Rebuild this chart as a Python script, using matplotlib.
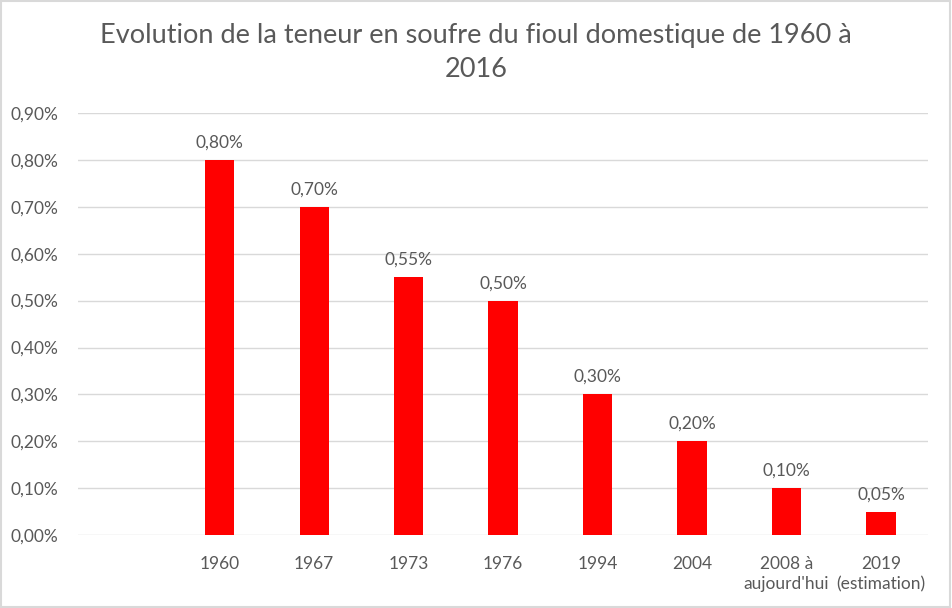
import numpy as np
import matplotlib.pyplot as plt
from matplotlib.ticker import FuncFormatter

plt.rcParams['font.family'] = ['Lato', 'DejaVu Sans']

# data (in %)
categories = ["", "1960", "1967", "1973", "1976", "1994", "2004", "2008 à\naujourd'hui", "2019\n(estimation)"]
teneur = [np.nan, 0.80, 0.70, 0.55, 0.50, 0.30, 0.20, 0.10, 0.05]
titre = "Evolution de la teneur en soufre du fioul domestique de 1960 à\n2016"

txt = "#595959"
grid = "#d9d9d9"

fig = plt.figure(figsize=(9.52, 6.08), dpi=100)
ax = fig.add_axes([0.082, 0.12, 0.893, 0.694])

x = np.arange(len(categories))
ax.bar(x, teneur, width=0.31, color="#ff0000", zorder=3)

for xi, v in zip(x, teneur):
    if not np.isnan(v):
        ax.text(xi, v + 0.02, f"{v:.2f}%".replace(".", ","), ha="center", va="bottom",
                fontsize=12.5, color=txt)

ax.set_xlim(-0.5, len(categories) - 0.5)
ax.set_ylim(0, 0.9)
ax.set_yticks(np.arange(0, 0.91, 0.1))
ax.yaxis.set_major_formatter(FuncFormatter(lambda v, p: f"{v:.2f}%".replace(".", ",")))
ax.set_xticks(x)
ax.set_xticklabels(categories, linespacing=1.35)
ax.tick_params(axis="both", length=0, labelsize=12.5, colors=txt)
ax.tick_params(axis="y", pad=14)
ax.tick_params(axis="x", pad=15)
ax.grid(axis="y", color=grid, linewidth=1, zorder=0)
for s in ax.spines.values():
    s.set_visible(False)

fig.text(0.5, 0.962, titre, ha="center", va="top", fontsize=19.5, color=txt, linespacing=1.45)

# light border around chart area
fig.patches.append(plt.Rectangle((0.001, 0.002), 0.997, 0.996, transform=fig.transFigure,
                                 fill=False, edgecolor=grid, linewidth=1.5))

fig.savefig("out.png", dpi=100)
